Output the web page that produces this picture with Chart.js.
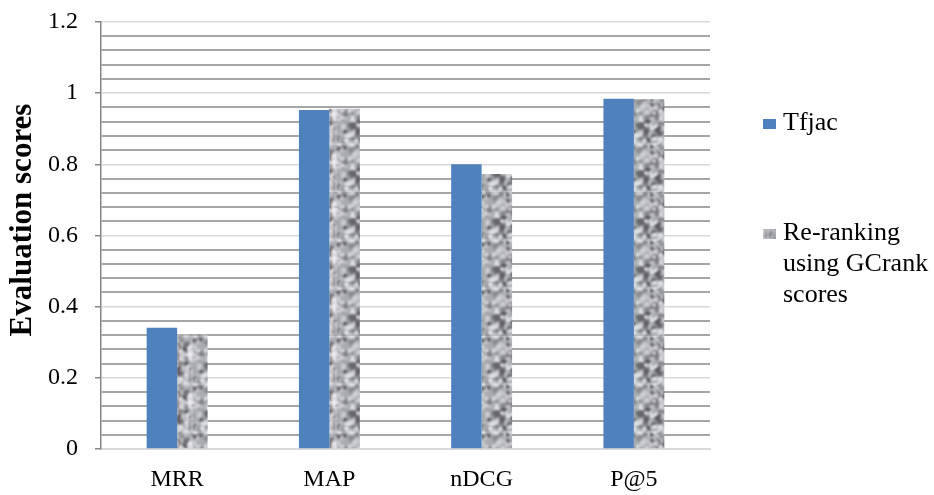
<!DOCTYPE html>
<html>
<head>
<meta charset="utf-8">
<script src="https://cdn.jsdelivr.net/npm/chart.js@4/dist/chart.umd.min.js"></script>
<style>
  html, body { margin: 0; padding: 0; background: #ffffff; }
  #wrap { width: 934px; height: 495px; }
</style>
</head>
<body>
<div id="wrap"><canvas id="chart" width="934" height="495"></canvas></div>
<script>
// Evaluation scores per metric for the two ranking methods
const categories = ['MRR', 'MAP', 'nDCG', 'P@5'];
const tfjacScores = [0.341, 0.953, 0.800, 0.984];
const rerankScores = [0.322, 0.956, 0.773, 0.983];
const seriesNames = ['Tfjac', 'Re-ranking using GCrank scores'];
const legendLines = [['Tfjac'], ['Re-ranking', 'using GCrank', 'scores']];
const yAxisTitle = 'Evaluation scores';
const yTickLabels = ['0', '0.2', '0.4', '0.6', '0.8', '1', '1.2'];

const SERIF = '"Liberation Serif", "Times New Roman", serif';
const BLUE = '#4f81bd';

// Mottled grey texture used as the fill of the second series
function makeTexture() {
  const size = 48;
  const raw = document.createElement('canvas');
  raw.width = raw.height = size;
  const r = raw.getContext('2d');
  let s = 918273;
  const rnd = () => { s = (Math.imul(s, 1664525) + 1013904223) >>> 0; return s / 4294967296; };
  r.fillStyle = '#a8acb0';
  r.fillRect(0, 0, size, size);
  for (let i = 0; i < 230; i++) {
    const x = rnd() * size, y = rnd() * size, rad = 0.9 + rnd() * 2.2;
    const g = rnd() < 0.42 ? Math.round(75 + rnd() * 70) : Math.round(185 + rnd() * 55);
    r.fillStyle = `rgb(${g},${g},${Math.min(255, g + 5)})`;
    r.beginPath();
    r.arc(x, y, rad, 0, Math.PI * 2);
    r.fill();
  }
  const big = document.createElement('canvas');
  big.width = big.height = size * 3;
  const b = big.getContext('2d');
  b.filter = 'blur(1.2px)';
  for (let dx = 0; dx < 3; dx++) for (let dy = 0; dy < 3; dy++) b.drawImage(raw, dx * size, dy * size);
  const out = document.createElement('canvas');
  out.width = out.height = size;
  out.getContext('2d').drawImage(big, size, size, size, size, 0, 0, size, size);
  return out;
}

const canvas = document.getElementById('chart');
const ctx0 = canvas.getContext('2d');
const grainPattern = ctx0.createPattern(makeTexture(), 'repeat');

const isMajor = v => Math.abs(v / 0.2 - Math.round(v / 0.2)) < 1e-6;

// Rotated y-axis title
const yTitlePlugin = {
  id: 'yTitle',
  afterDraw(chart) {
    const c = chart.ctx;
    c.save();
    c.translate(23, 220);
    c.rotate(-Math.PI / 2);
    c.font = 'bold 31px ' + SERIF;
    c.fillStyle = '#000';
    c.textAlign = 'center';
    c.textBaseline = 'middle';
    c.fillText(yAxisTitle, 0, 0);
    c.restore();
  }
};

// Legend on the right, with wrapped second label
const sideLegend = {
  id: 'sideLegend',
  afterDraw(chart) {
    const c = chart.ctx;
    const items = [
      { fill: BLUE, box: [763, 119, 13, 10], baselines: [130] },
      { fill: grainPattern, box: [763, 229, 13, 10], baselines: [239.5, 270.5, 301.5] }
    ];
    c.save();
    c.font = '26px ' + SERIF;
    c.textBaseline = 'alphabetic';
    items.forEach((it, i) => {
      c.fillStyle = it.fill;
      c.fillRect(...it.box);
      c.fillStyle = '#000';
      legendLines[i].forEach((line, j) => c.fillText(line, 783, it.baselines[j]));
    });
    c.restore();
  }
};

new Chart(canvas, {
  type: 'bar',
  data: {
    labels: categories,
    datasets: [
      { label: seriesNames[0], data: tfjacScores, backgroundColor: BLUE, borderWidth: 0,
        categoryPercentage: 0.4, barPercentage: 1.0 },
      { label: seriesNames[1], data: rerankScores, backgroundColor: grainPattern, borderWidth: 0,
        categoryPercentage: 0.4, barPercentage: 1.0 }
    ]
  },
  options: {
    responsive: false,
    animation: false,
    devicePixelRatio: 1,
    layout: { padding: { top: 22, right: 224, left: 0, bottom: 0 } },
    plugins: {
      legend: { display: false },
      tooltip: { enabled: false },
      title: { display: false }
    },
    scales: {
      x: {
        grid: { display: false, drawTicks: false },
        border: { display: true, color: '#d9d9d9', width: 2 },
        ticks: { color: '#000', font: { family: SERIF, size: 24 }, padding: 16, maxRotation: 0 },
        afterFit(scale) { scale.height = 46; scale.paddingLeft = 0; scale.paddingRight = 0; }
      },
      y: {
        min: 0,
        max: 1.2,
        border: { display: true, color: '#868686', width: 1.5 },
        grid: {
          color: c => isMajor(c.tick.value) ? '#d9d9d9' : '#a6a6a6',
          lineWidth: c => isMajor(c.tick.value) ? 1.5 : 2,
          tickColor: c => isMajor(c.tick.value) ? '#868686' : 'rgba(0,0,0,0)',
          tickLength: 6,
          drawTicks: true
        },
        ticks: {
          stepSize: 0.04,
          autoSkip: false,
          color: '#000',
          font: { family: SERIF, size: 24 },
          padding: 17,
          callback: v => isMajor(v) ? yTickLabels[Math.round(v / 0.2)] : ''
        },
        afterFit(scale) { scale.width = 101; scale.paddingTop = 0; scale.paddingBottom = 0; }
      }
    }
  },
  plugins: [yTitlePlugin, sideLegend]
});
</script>
</body>
</html>
